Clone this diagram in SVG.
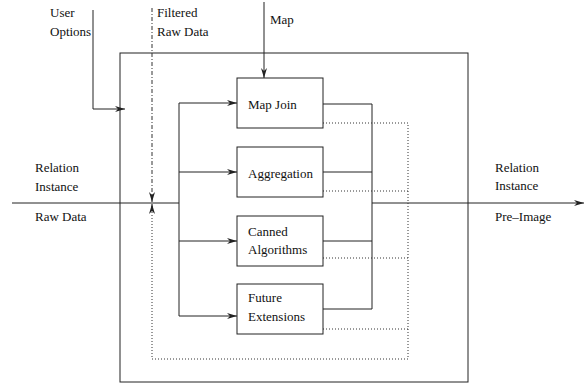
<svg xmlns="http://www.w3.org/2000/svg" width="585" height="385" viewBox="0 0 585 385">
<defs>
<style>
text{font-family:"Liberation Serif","Times New Roman",serif;font-size:13px;fill:#111}
.ln{fill:none;stroke:#222;stroke-width:1}
.box{fill:#fff;stroke:#222;stroke-width:1}
.dot{fill:none;stroke:#333;stroke-width:1;stroke-dasharray:1 2}
.dd{fill:none;stroke:#333;stroke-width:1;stroke-dasharray:4 2 1 2}
</style>
<marker id="ah" viewBox="0 0 10 6" refX="10" refY="3" markerWidth="10" markerHeight="6" markerUnits="userSpaceOnUse" orient="auto">
<path d="M0,0 L10,3 L0,6 L3,3 Z" fill="#222"/>
</marker>
</defs>
<rect id="outer" class="box" x="120" y="53" width="348" height="329"/>
<g id="labels">
<text x="50" y="17">User</text>
<text x="50" y="36">Options</text>
<text x="157" y="17">Filtered</text>
<text x="157" y="36">Raw Data</text>
<text x="270" y="24">Map</text>
<text x="35" y="172">Relation</text>
<text x="35" y="191">Instance</text>
<text x="35" y="221">Raw Data</text>
<text x="495" y="172">Relation</text>
<text x="495" y="190">Instance</text>
<text x="495" y="221">Pre–Image</text>
</g>
<g id="connectors">
<path class="ln" d="M93,10 V109 H125" marker-end="url(#ah)"/>
<path class="ln" d="M264,2 V78" marker-end="url(#ah)"/>
<path class="ln" d="M12,203 H179"/>
<path class="ln" d="M179,103 V316"/>
<path class="ln" d="M179,103 H237" marker-end="url(#ah)"/>
<path class="ln" d="M179,172 H237" marker-end="url(#ah)"/>
<path class="ln" d="M179,241 H237" marker-end="url(#ah)"/>
<path class="ln" d="M179,316 H237" marker-end="url(#ah)"/>
<path class="ln" d="M323,104 H372 V309 H323"/>
<path class="ln" d="M323,172 H372"/>
<path class="ln" d="M323,241 H372"/>
<path class="ln" d="M372,203 H584" marker-end="url(#ah)"/>
<path class="dot" d="M323,123 H408 V359 H152 V205"/>
<path class="ln" d="M152,210 V204" marker-end="url(#ah)"/>
<path class="dot" d="M323,191 H408"/>
<path class="dot" d="M323,258 H408"/>
<path class="dot" d="M323,329 H408"/>
<path class="dd" d="M152,8 V194"/>
<path class="ln" d="M152,194 V202" marker-end="url(#ah)"/>
</g>
<g id="mapjoin"><rect class="box" x="237" y="78" width="86" height="50"/><text x="248" y="109">Map Join</text></g>
<g id="aggregation"><rect class="box" x="237" y="147" width="86" height="50"/><text x="248" y="178">Aggregation</text></g>
<g id="canned"><rect class="box" x="237" y="216" width="86" height="50"/><text x="248" y="236">Canned</text><text x="248" y="254">Algorithms</text></g>
<g id="future"><rect class="box" x="237" y="284" width="86" height="50"/><text x="248" y="302">Future</text><text x="248" y="321">Extensions</text></g>
</svg>
